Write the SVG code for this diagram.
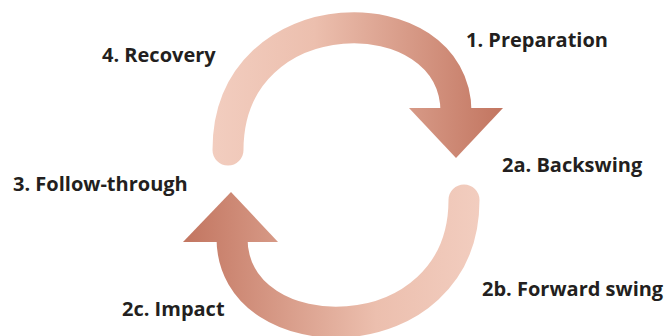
<svg xmlns="http://www.w3.org/2000/svg" width="666" height="336" viewBox="0 0 666 336">
<defs>
<linearGradient id="gTop" gradientUnits="userSpaceOnUse" x1="213" y1="0" x2="503" y2="0">
<stop offset="0" stop-color="#f2cdbf"/>
<stop offset="0.35" stop-color="#ecbfae"/>
<stop offset="1" stop-color="#c27560"/>
</linearGradient>
<linearGradient id="gBot" gradientUnits="userSpaceOnUse" x1="183" y1="0" x2="480" y2="0">
<stop offset="0" stop-color="#c27560"/>
<stop offset="0.65" stop-color="#ecbfae"/>
<stop offset="1" stop-color="#f2cdbf"/>
</linearGradient>
<style>
.lbl{font-family:"Open Sans","Liberation Sans",sans-serif;font-weight:700;font-size:20px;fill:#231f20}
</style>
</defs>
<g id="connectors">
<g id="arrow-top">
<path d="M228,150 C228,-6 456,-6 456,112" fill="none" stroke="url(#gTop)" stroke-width="31" stroke-linecap="round"/>
<polygon points="409,108 503,108 456,158" fill="url(#gTop)"/>
</g>
<g id="arrow-bottom">
<path d="M464,200 C464,356 232,356 232,238" fill="none" stroke="url(#gBot)" stroke-width="31" stroke-linecap="round"/>
<polygon points="183,242 278,242 231,192" fill="url(#gBot)"/>
</g>
</g>
<g id="n1"><text class="lbl" x="466" y="47">1. Preparation</text></g>
<g id="n2a"><text class="lbl" x="502" y="172">2a. Backswing</text></g>
<g id="n2b"><text class="lbl" x="482" y="296">2b. Forward swing</text></g>
<g id="n2c"><text class="lbl" x="122" y="316">2c. Impact</text></g>
<g id="n3"><text class="lbl" x="13" y="191">3. Follow-through</text></g>
<g id="n4"><text class="lbl" x="102" y="62">4. Recovery</text></g>
</svg>
